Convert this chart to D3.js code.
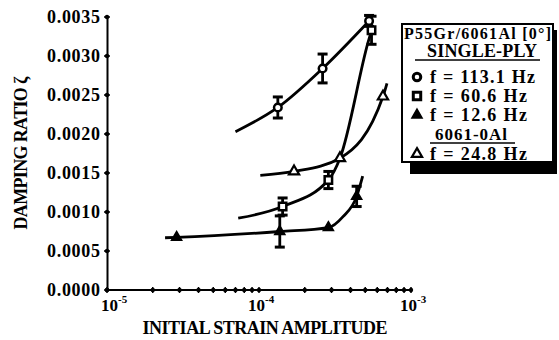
<!DOCTYPE html>
<html>
<head>
<meta charset="utf-8">
<script src="https://cdn.jsdelivr.net/npm/d3@7"></script>
<style>
  body { margin: 0; background: #fff; }
  svg text { font-family: "Liberation Serif", "Times New Roman", serif; font-weight: bold; fill: #000; }
</style>
</head>
<body>
<div id="chart"></div>
<script>
// P55Gr/6061Al single-ply, f = 113.1 Hz (circles)
const circleStrain = [1.33e-4, 2.62e-4, 5.3e-4];
const circleDamping = [0.00234, 0.00284, 0.00345];
const circleErr = [0.000135, 0.000185, 0.00007];
const circleFitStrain = [7.0e-5, 1.33e-4, 2.62e-4, 5.3e-4];
const circleFitDamping = [0.00203, 0.00234, 0.00284, 0.00345];

// f = 60.6 Hz (squares)
const squareStrain = [1.43e-4, 2.86e-4, 5.5e-4];
const squareDamping = [0.00107, 0.00141, 0.00333];
const squareErr = [0.00011, 0.00011, 0.00018];
const squareFitStrain = [7.3e-5, 1.43e-4, 2.86e-4, 3.41e-4, 5.21e-4, 5.5e-4];
const squareFitDamping = [0.00092, 0.00107, 0.00141, 0.00169, 0.00317, 0.00333];

// f = 12.6 Hz (filled triangles)
const triStrain = [2.87e-5, 1.37e-4, 2.86e-4, 4.39e-4];
const triDamping = [0.000675, 0.00075, 0.0008, 0.0012];
const triErr = [0, 0.0002, 0, 0.00013];
const triFitStrain = [2.41e-5, 2.87e-5, 1.37e-4, 2.86e-4, 3.57e-4, 4.39e-4, 4.81e-4];
const triFitDamping = [0.00067, 0.000675, 0.00075, 0.0008, 0.00094, 0.0012, 0.00146];

// 6061-0Al, f = 24.8 Hz (open triangles)
const openStrain = [1.70e-4, 3.41e-4, 6.54e-4];
const openDamping = [0.00152, 0.00169, 0.00248];
const openFitStrain = [1.02e-4, 1.70e-4, 3.41e-4, 6.54e-4, 6.95e-4];
const openFitDamping = [0.00147, 0.00152, 0.00169, 0.00248, 0.00265];

const yTicks = [0, 0.0005, 0.001, 0.0015, 0.002, 0.0025, 0.003, 0.0035];
const xDecades = [-5, -4, -3];
const legendTitle = "P55Gr/6061Al [0°]";
const legendGroup1 = "SINGLE-PLY";
const legendGroup2 = "6061-0Al";
const legendLabels = ["f = 113.1 Hz", "f = 60.6 Hz", "f = 12.6 Hz", "f = 24.8 Hz"];

const W = 559, H = 340;
const svg = d3.select("#chart").append("svg").attr("width", W).attr("height", H);

const x = d3.scaleLog().domain([1e-5, 1e-3]).range([107, 411]);
const y = d3.scaleLinear().domain([0, 0.0035]).range([290, 17]);

// axes
const yAxis = svg.append("g").attr("transform", "translate(107,0)")
  .call(d3.axisLeft(y).tickValues(yTicks).tickFormat(d3.format(".4f")).tickSize(0).tickPadding(7));
yAxis.select(".domain").attr("stroke", "#000").attr("stroke-width", 2);
yAxis.selectAll("text").style("font-size", "18px").attr("textLength", 53);

svg.append("line")
  .attr("x1", x(1e-5)).attr("x2", x(1e-3)).attr("y1", y(0)).attr("y2", y(0))
  .attr("stroke", "#000").attr("stroke-width", 2);

// tick dots on the y axis
svg.append("g").selectAll("circle").data(yTicks).join("circle")
  .attr("cx", 107).attr("cy", d => y(d)).attr("r", 2.2).attr("fill", "#000");
svg.append("g").selectAll("line").data(yTicks).join("line")
  .attr("x1", 104).attr("x2", 110).attr("y1", d => y(d)).attr("y2", d => y(d))
  .attr("stroke", "#000").attr("stroke-width", 1.5);

// minor ticks on the log axis
const xTicks = [];
xDecades.slice(0, 2).forEach(d => { for (let k = 1; k < 10; k++) xTicks.push(k * Math.pow(10, d)); });
xTicks.push(1e-3);
svg.append("g").selectAll("circle").data(xTicks).join("circle")
  .attr("cx", d => x(d)).attr("cy", y(0)).attr("r", 2.2).attr("fill", "#000");
svg.append("g").selectAll("line").data(xTicks).join("line")
  .attr("x1", d => x(d)).attr("x2", d => x(d)).attr("y1", y(0) - 3).attr("y2", y(0) + 3)
  .attr("stroke", "#000").attr("stroke-width", 1.5);

const xLab = svg.append("g").selectAll("text").data(xDecades).join("text")
  .attr("x", (d, i) => x(Math.pow(10, d)) - (i === 0 ? 6 : 11)).attr("y", 311)
  .attr("text-anchor", "start").style("font-size", "17px");
xLab.append("tspan").text("10");
xLab.append("tspan").attr("dy", -8).style("font-size", "11px").text(d => String(d));

svg.append("text").attr("x", 265).attr("y", 334).attr("text-anchor", "middle")
  .style("font-size", "18px").attr("textLength", 245).text("INITIAL STRAIN AMPLITUDE");
svg.append("text").attr("transform", "translate(27,153) rotate(-90)").attr("text-anchor", "middle")
  .style("font-size", "18px").attr("textLength", 153).text("DAMPING RATIO ζ");

// fitted curves
const line = d3.line().x(d => x(d[0])).y(d => y(d[1])).curve(d3.curveMonotoneX);
const fits = [
  d3.zip(circleFitStrain, circleFitDamping),
  d3.zip(squareFitStrain, squareFitDamping),
  d3.zip(triFitStrain, triFitDamping),
  d3.zip(openFitStrain, openFitDamping)
];
svg.append("g").selectAll("path").data(fits).join("path")
  .attr("d", line).attr("fill", "none").attr("stroke", "#000").attr("stroke-width", 2.8);

// error bars
function errorBars(xs, ys, es) {
  const data = d3.zip(xs, ys, es).filter(d => d[2] > 0);
  const g = svg.append("g").attr("stroke", "#000");
  g.selectAll(".v").data(data).join("line")
    .attr("x1", d => x(d[0])).attr("x2", d => x(d[0]))
    .attr("y1", d => y(d[1] - d[2])).attr("y2", d => y(d[1] + d[2])).attr("stroke-width", 2.8);
  g.selectAll(".t").data(data).join("line")
    .attr("x1", d => x(d[0]) - 5).attr("x2", d => x(d[0]) + 5)
    .attr("y1", d => y(d[1] + d[2])).attr("y2", d => y(d[1] + d[2])).attr("stroke-width", 3);
  g.selectAll(".b").data(data).join("line")
    .attr("x1", d => x(d[0]) - 5).attr("x2", d => x(d[0]) + 5)
    .attr("y1", d => y(d[1] - d[2])).attr("y2", d => y(d[1] - d[2])).attr("stroke-width", 3);
}
errorBars(circleStrain, circleDamping, circleErr);
errorBars(squareStrain, squareDamping, squareErr);
errorBars(triStrain, triDamping, triErr);

// markers
const symCircle = d3.symbol(d3.symbolCircle, 45)();
const symSquare = d3.symbol(d3.symbolSquare, 55)();
const symTri = d3.symbol(d3.symbolTriangle, 45)();
function markers(xs, ys, path, fill, sw) {
  svg.append("g").selectAll("path").data(d3.zip(xs, ys)).join("path")
    .attr("transform", d => `translate(${x(d[0])},${y(d[1])})`)
    .attr("d", path).attr("fill", fill).attr("stroke", "#000").attr("stroke-width", sw);
}
markers(circleStrain, circleDamping, symCircle, "#fff", 2.5);
markers(squareStrain, squareDamping, symSquare, "#fff", 2.5);
markers(triStrain, triDamping, symTri, "#000", 1.5);
markers(openStrain, openDamping, symTri, "#fff", 2.2);

// legend
const lg = svg.append("g");
lg.append("rect").attr("x", 410).attr("y", 30).attr("width", 147).attr("height", 144).attr("fill", "#000");
lg.append("rect").attr("x", 402).attr("y", 24).attr("width", 151).attr("height", 138)
  .attr("fill", "#fff").attr("stroke", "#000").attr("stroke-width", 2);
lg.append("text").attr("x", 404).attr("y", 39).style("font-size", "16px").attr("textLength", 147).text(legendTitle);
lg.append("text").attr("x", 427).attr("y", 57).style("font-size", "18px").attr("textLength", 110).text(legendGroup1);
lg.append("line").attr("x1", 415).attr("x2", 540).attr("y1", 60).attr("y2", 60).attr("stroke", "#000").attr("stroke-width", 1.5);
lg.append("text").attr("x", 435).attr("y", 140).style("font-size", "17px").attr("textLength", 72).text(legendGroup2);
lg.append("line").attr("x1", 430).attr("x2", 515).attr("y1", 143).attr("y2", 143).attr("stroke", "#000").attr("stroke-width", 1.5);

const rowY = [77, 96, 115, 154];
const rowSym = [[symCircle, "#fff", 3], [symSquare, "#fff", 3], [symTri, "#000", 1.5], [symTri, "#fff", 2.2]];
lg.selectAll(".m").data(rowY).join("path")
  .attr("transform", d => `translate(417,${d})`)
  .attr("d", (d, i) => rowSym[i][0]).attr("fill", (d, i) => rowSym[i][1])
  .attr("stroke", "#000").attr("stroke-width", (d, i) => rowSym[i][2]);
lg.selectAll(".l").data(rowY).join("text")
  .attr("x", 430).attr("y", d => d + 6).style("font-size", "18px")
  .attr("textLength", (d, i) => i === 0 ? 105 : 97)
  .text((d, i) => legendLabels[i]);
</script>
</body>
</html>
